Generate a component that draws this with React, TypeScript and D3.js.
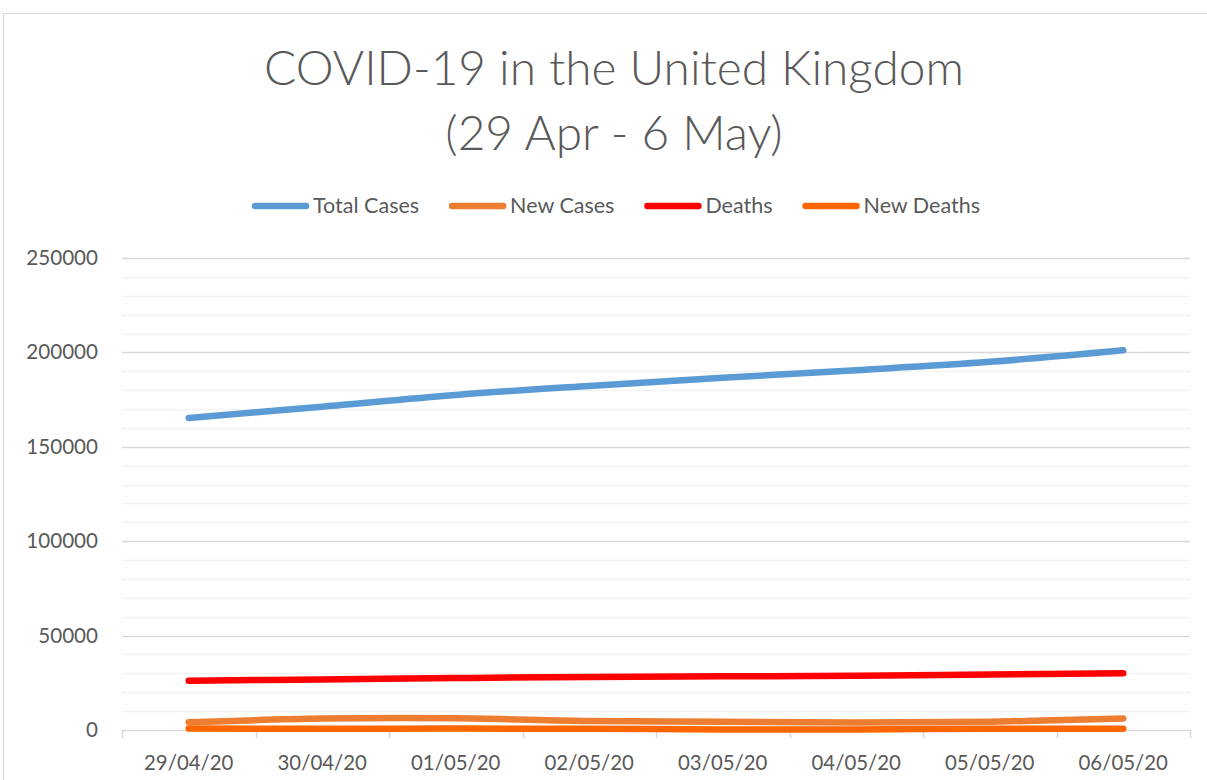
import React, { useEffect, useRef } from "react";
import * as d3 from "d3";

const dates = ["29/04/20", "30/04/20", "01/05/20", "02/05/20", "03/05/20", "04/05/20", "05/05/20", "06/05/20"];
const totalCases = [165221, 171253, 177454, 182260, 186599, 190584, 194990, 201101];
const newCases = [4076, 6032, 6201, 4806, 4339, 3985, 4406, 6111];
const deaths = [26097, 26771, 27510, 28131, 28446, 28734, 29427, 30076];
const newDeaths = [765, 674, 739, 621, 315, 288, 693, 649];
const yTicks = [0, 50000, 100000, 150000, 200000, 250000];
const seriesNames = ["Total Cases", "New Cases", "Deaths", "New Deaths"];
const seriesColors = ["#5B9BD5", "#ED7D31", "#FF0000", "#FF6600"];
const titleLines = ["COVID-19 in the United Kingdom", "(29 Apr - 6 May)"];

const W = 1207, H = 780;
const FONT = "Lato, 'Open Sans', sans-serif";

export default function App() {
  const ref = useRef<SVGSVGElement>(null);
  useEffect(() => {
    const svg = d3.select(ref.current);
    svg.selectAll("*").remove();
    const left = 122, right = 1190, top = 258, bottom = 730;
    const x = d3.scaleBand().domain(dates).range([left, right]).padding(0);
    const y = d3.scaleLinear().domain([0, 250000]).range([bottom, top]);
    const cx = (d: string) => (x(d) as number) + x.bandwidth() / 2;

    svg.append("rect").attr("x", 0).attr("y", 0).attr("width", W).attr("height", H).attr("fill", "#fff");
    svg.append("rect").attr("x", 3.5).attr("y", 13.5).attr("width", W + 20).attr("height", H + 20)
      .attr("fill", "none").attr("stroke", "#d9d9d9").attr("stroke-width", 1);

    // title
    const tg = svg.append("g");
    titleLines.forEach((t, i) => {
      tg.append("text").attr("x", 614).attr("y", 85 + i * 65).attr("text-anchor", "middle")
        .attr("font-family", FONT).attr("font-weight", 300).attr("font-size", 47.8).attr("fill", "#595959").text(t);
    });

    // gridlines
    const minor = d3.range(10000, 250001, 10000).filter(v => v % 50000 !== 0);
    svg.append("g").selectAll("line").data(minor).join("line")
      .attr("x1", left).attr("x2", right).attr("y1", d => Math.round(y(d)) + 0.5).attr("y2", d => Math.round(y(d)) + 0.5)
      .attr("stroke", "#f2f2f2").attr("stroke-width", 1.5);
    svg.append("g").selectAll("line").data(yTicks.filter(v => v > 0)).join("line")
      .attr("x1", left).attr("x2", right).attr("y1", d => Math.round(y(d)) + 0.5).attr("y2", d => Math.round(y(d)) + 0.5)
      .attr("stroke", "#d9d9d9").attr("stroke-width", 1.5);

    // x axis
    const xa = svg.append("g");
    xa.append("line").attr("x1", left).attr("x2", right).attr("y1", bottom + 0.5).attr("y2", bottom + 0.5)
      .attr("stroke", "#d9d9d9").attr("stroke-width", 1.5);
    const bounds = dates.map(d => x(d) as number).concat([right]);
    xa.selectAll("line.tick").data(bounds).join("line").attr("class", "tick")
      .attr("x1", d => Math.round(d) + 0.5).attr("x2", d => Math.round(d) + 0.5)
      .attr("y1", bottom).attr("y2", bottom + 8).attr("stroke", "#d9d9d9").attr("stroke-width", 1.5);
    xa.selectAll("text").data(dates).join("text")
      .attr("x", d => cx(d)).attr("y", 770).attr("text-anchor", "middle")
      .attr("font-family", FONT).attr("font-size", 20.4).attr("fill", "#595959").text(d => d);

    // y labels
    svg.append("g").selectAll("text").data(yTicks).join("text")
      .attr("x", 98).attr("y", d => y(d) + 7).attr("text-anchor", "end")
      .attr("font-family", FONT).attr("font-size", 20.6).attr("fill", "#595959").text(d => String(d));

    // lines
    const all = [totalCases, newCases, deaths, newDeaths];
    const line = d3.line<number>().x((_, i) => cx(dates[i])).y(v => y(v)).curve(d3.curveCatmullRom.alpha(0.5));
    [3, 2, 1, 0].forEach(si => {
      svg.append("path").attr("d", line(all[si]) as string).attr("fill", "none")
        .attr("stroke", seriesColors[si]).attr("stroke-width", 6.5)
        .attr("stroke-linecap", "round").attr("stroke-linejoin", "round");
    });

    // legend
    const lg = svg.append("g");
    let xpos = 0;
    const items: { g: any; w: number }[] = [];
    seriesNames.forEach((n, i) => {
      const g = lg.append("g");
      g.append("line").attr("x1", 3).attr("x2", 54).attr("y1", 0).attr("y2", 0)
        .attr("stroke", seriesColors[i]).attr("stroke-width", 6.5).attr("stroke-linecap", "round");
      const t = g.append("text").attr("x", 61).attr("y", 7).attr("font-family", FONT).attr("font-size", 21.5)
        .attr("fill", "#595959").text(n);
      const tw = (t.node() as SVGTextElement).getComputedTextLength();
      items.push({ g, w: 61 + tw });
    });
    const gap = 30;
    const total = items.reduce((s, it) => s + it.w, 0) + gap * (items.length - 1);
    xpos = 616 - total / 2;
    items.forEach(it => {
      it.g.attr("transform", `translate(${xpos},206)`);
      xpos += it.w + gap;
    });
  }, []);
  return (
    <svg ref={ref} width={W} height={H} style={{ position: "absolute", left: 0, top: 0 }} />
  );
}
